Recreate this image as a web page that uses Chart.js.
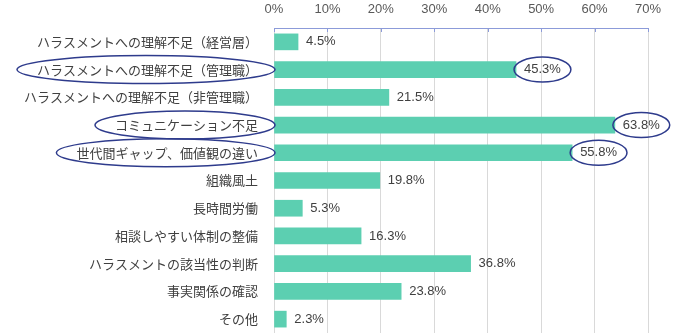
<!DOCTYPE html>
<html>
<head>
<meta charset="utf-8">
<script src="https://cdn.jsdelivr.net/npm/chart.js@4"></script>
<style>
  html, body { margin: 0; padding: 0; background: #fff; overflow: hidden; }
  canvas { display: block; }
</style>
</head>
<body>
<canvas id="chart" width="697" height="336"></canvas>
<script>
// data
const categories = [
    'ハラスメントへの理解不足（経営層）',
    'ハラスメントへの理解不足（管理職）',
    'ハラスメントへの理解不足（非管理職）',
    'コミュニケーション不足',
    '世代間ギャップ、価値観の違い',
    '組織風土',
    '長時間労働',
    '相談しやすい体制の整備',
    'ハラスメントの該当性の判断',
    '事実関係の確認',
    'その他'
];
const values = [4.5, 45.3, 21.5, 63.8, 55.8, 19.8, 5.3, 16.3, 36.8, 23.8, 2.3];
const xTicks = [0, 10, 20, 30, 40, 50, 60, 70];
const highlighted = [1, 3, 4];

const CJK = '"Noto Sans CJK JP", "Noto Sans", sans-serif';
const NUM = '"Liberation Sans", Arial, sans-serif';
const ringColor = '#2e3b8c';

// value labels + circled annotations
const overlay = {
    id: 'overlay',
    afterDatasetsDraw(chart) {
        const ctx = chart.ctx;
        const meta = chart.getDatasetMeta(0);
        const area = chart.chartArea;
        const yScale = chart.scales.y;
        const xScale = chart.scales.x;

        // small tick marks below the top axis line
        ctx.save();
        ctx.strokeStyle = '#8c9bd9';
        ctx.lineWidth = 1;
        xTicks.forEach(t => {
            const px = Math.round(xScale.getPixelForValue(t)) + 0.5;
            ctx.beginPath();
            ctx.moveTo(px, area.top);
            ctx.lineTo(px, area.top + 4);
            ctx.stroke();
        });
        ctx.restore();

        ctx.save();
        ctx.font = '13px ' + NUM;
        ctx.fillStyle = '#404040';
        ctx.textBaseline = 'middle';
        ctx.textAlign = 'left';
        const valuePos = [];
        meta.data.forEach((bar, i) => {
            const txt = values[i].toFixed(1) + '%';
            const x = bar.x + 8;
            ctx.fillText(txt, x, bar.y);
            valuePos.push({ x: x, y: bar.y, w: ctx.measureText(txt).width });
        });
        ctx.restore();

        ctx.save();
        ctx.strokeStyle = ringColor;
        ctx.lineWidth = 1.5;
        ctx.font = '13px ' + CJK;
        highlighted.forEach(i => {
            const cy = yScale.getPixelForValue(i);
            const tw = ctx.measureText(categories[i]).width;
            const right = area.left + 1;
            const left = area.left - 16 - tw - 20;
            ctx.beginPath();
            ctx.ellipse((left + right) / 2, cy, (right - left) / 2, 14, 0, 0, Math.PI * 2);
            ctx.stroke();

            const v = valuePos[i];
            ctx.beginPath();
            ctx.ellipse(v.x + v.w / 2, v.y, v.w / 2 + 10, 12.5, 0, 0, Math.PI * 2);
            ctx.stroke();
        });
        ctx.restore();
    }
};

new Chart(document.getElementById('chart'), {
    type: 'bar',
    data: {
        labels: categories,
        datasets: [{
            data: values,
            backgroundColor: '#5ccfb1',
            barThickness: 16
        }]
    },
    options: {
        indexAxis: 'y',
        responsive: false,
        animation: false,
        layout: { autoPadding: false, padding: { left: 0, right: 49, top: 0, bottom: 3 } },
        plugins: {
            legend: { display: false },
            tooltip: { enabled: false }
        },
        scales: {
            x: {
                position: 'top',
                min: 0,
                max: 70,
                afterBuildTicks: scale => { scale.ticks = xTicks.map(v => ({ value: v })); },
                afterFit: scale => { scale.height = 28; },
                grid: { color: '#d9d9d9', drawTicks: false },
                border: { color: '#8c9bd9', width: 1 },
                ticks: {
                    padding: 11,
                    color: '#595959',
                    font: { family: NUM, size: 13 },
                    callback: v => v + '%'
                }
            },
            y: {
                afterFit: scale => {
                    scale.width = 274;
                    scale.paddingTop = 0;
                    scale.paddingBottom = 0;
                },
                grid: { display: false, drawTicks: false },
                border: { display: false },
                ticks: {
                    padding: 16,
                    color: '#404040',
                    font: { family: CJK, size: 13 }
                }
            }
        }
    },
    plugins: [overlay]
});
</script>
</body>
</html>
